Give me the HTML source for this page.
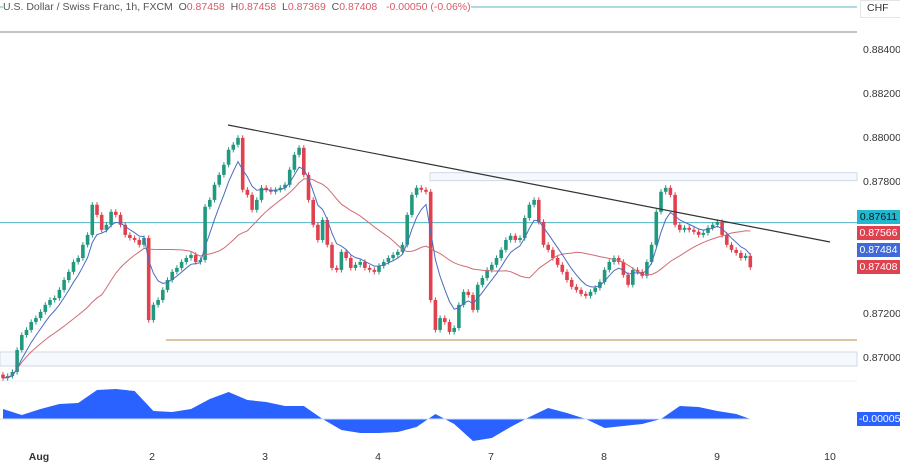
<!DOCTYPE html>
<html><head><meta charset="utf-8"><style>
body{margin:0;background:#fff;font-family:"Liberation Sans",sans-serif;}
svg{display:block}
</style></head><body>
<svg id="c" width="900" height="463" viewBox="0 0 900 463">
<rect width="900" height="463" fill="#fff"/>
<g id="bg"></g><g id="marks"></g><g id="over"></g>
</svg>
<script>
const closes=[0.86904,0.86914,0.86932,0.87032,0.87100,0.87123,0.87159,0.87177,0.87205,0.87237,0.87259,0.87268,0.87305,0.87350,0.87387,0.87432,0.87450,0.87510,0.87555,0.87692,0.87646,0.87578,0.87601,0.87660,0.87646,0.87601,0.87555,0.87541,0.87532,0.87510,0.87541,0.87168,
0.87237,0.87259,0.87305,0.87350,0.87387,0.87405,0.87432,0.87450,0.87464,0.87432,0.87441,0.87683,0.87714,0.87783,0.87828,0.87874,0.87942,0.87965,0.87996,0.87760,0.87737,0.87669,0.87714,0.87769,
0.87760,0.87751,0.87760,0.87769,0.87783,0.87851,0.87919,0.87951,0.87828,0.87714,0.87601,0.87532,0.87623,0.87510,0.87405,0.87396,0.87478,0.87450,0.87405,0.87419,0.87432,0.87405,0.87396,0.87387,
0.87414,0.87432,0.87450,0.87464,0.87478,0.87510,0.87646,0.87737,0.87769,0.87760,0.87751,0.87259,0.87123,0.87177,0.87159,0.87114,0.87132,0.87237,0.87296,0.87282,0.87214,0.87328,0.87359,0.87396,
0.87419,0.87450,0.87487,0.87532,0.87551,0.87532,0.87541,0.87632,0.87692,0.87714,0.87614,0.87510,0.87487,0.87450,0.87419,0.87387,0.87350,0.87319,0.87305,0.87287,0.87278,0.87296,0.87314,0.87341,
0.87396,0.87432,0.87450,0.87432,0.87373,0.87328,0.87396,0.87387,0.87369,0.87432,0.87510,0.87660,0.87751,0.87769,0.87737,0.87601,0.87578,0.87587,0.87578,0.87569,0.87555,0.87564,0.87587,0.87601,
0.87614,0.87555,0.87510,0.87487,0.87473,0.87450,0.87460,0.87408];
const firstOpen=0.86920;
const oscVals=[10,4,10,15,16,29,30,28,8,7,10,20,27,19,17,13,13,0,-11,-14,-14,-13,-8,5,-5,-22,-19,-8,2,11,6,0,-9,-7,-5,0,13,12,8,5,0];
const yTicks=[0.884,0.882,0.880,0.878,0.872,0.870];
const dayLabels=["Aug","2","3","4","7","8","9","10"];
const NS="http://www.w3.org/2000/svg";
const X0=3,STEP=4.7;
function xOf(i){return X0+i*STEP;}
function yOf(p){return 357-(p-0.870)/0.002*44;}
function oscY(v){return 419-v;}
function mk(tag,attrs,parent){const e=document.createElementNS(NS,tag);for(const k in attrs)e.setAttribute(k,attrs[k]);parent.appendChild(e);return e;}
const bg=document.getElementById('bg'),marks=document.getElementById('marks'),over=document.getElementById('over');
let e;
e=mk('line',{x1:0,x2:857,y1:7,y2:7,stroke:'#5fb9c9','stroke-width':1},bg);

e=mk('line',{x1:0,x2:857,y1:32,y2:32,stroke:'#8c8790','stroke-width':1},bg);

e=mk('rect',{x:430,y:yOf(0.87838),width:427,height:8,fill:'#f5f8fc',stroke:'#cfdae6','stroke-width':1},bg);

e=mk('rect',{x:0,y:352,width:857,height:14,fill:'#f5f8fc',stroke:'#cfdae6','stroke-width':1},bg);

e=mk('line',{x1:0,x2:857,y1:yOf(0.87611),y2:yOf(0.87611),stroke:'#4fb5c4','stroke-width':1},bg);

e=mk('line',{x1:166,x2:857,y1:340,y2:340,stroke:'#c9a26a','stroke-width':1.3},bg);

let prev=firstOpen;
closes.forEach((c,i)=>{const o=prev;prev=c;
 const hi=Math.max(o,c)+0.00012,lo=Math.min(o,c)-0.00012;
 const col=c>=o?'#22997f':'#e0414f';const x=xOf(i);
 const w=mk('line',{x1:x,x2:x,y1:yOf(hi),y2:yOf(lo),stroke:col,'stroke-width':1},marks);
 
 const y1=yOf(Math.max(o,c)),y2=yOf(Math.min(o,c));
 const b=mk('rect',{x:x-1.8,y:y1,width:3.6,height:Math.max(1.5,y2-y1),fill:col},marks);
 
});
function ema(n){const k=2/(n+1);let v=closes[0];return closes.map(c=>v=v+k*(c-v));}
function sma(n){return closes.map((c,i)=>{const s=closes.slice(Math.max(0,i-n+1),i+1);return s.reduce((a,b)=>a+b,0)/s.length;});}
const ma1=ema(6),ma2=sma(22);
e=mk('path',{d:ma2.map((v,i)=>(i?'L':'M')+xOf(i)+' '+yOf(v)).join(''),fill:'none',stroke:'#d26b74','stroke-width':1},marks);

e=mk('path',{d:ma1.map((v,i)=>(i?'L':'M')+xOf(i)+' '+yOf(v)).join(''),fill:'none',stroke:'#4a6cc0','stroke-width':1},marks);

e=mk('line',{x1:228,y1:125,x2:830,y2:242,stroke:'#333','stroke-width':1.2},marks);

e=mk('line',{x1:0,x2:857,y1:381,y2:381,stroke:'#eceff2','stroke-width':1},bg);

let d='M'+xOf(0)+' '+oscY(0);
oscVals.forEach((v,i)=>{d+='L'+xOf(Math.min(i*4,159))+' '+oscY(v);});
d+='L'+xOf(159)+' '+oscY(0)+'Z';
e=mk('path',{d:d,fill:'#2962ff','stroke-linejoin':'round'},marks);

e=mk('line',{x1:0,x2:xOf(159),y1:oscY(0),y2:oscY(0),stroke:'#cfe0f5','stroke-width':1},marks);

yTicks.forEach(t=>{const tx=mk('text',{x:863,y:yOf(t)+4,'font-size':10.5,fill:'#333'},over);tx.textContent=t.toFixed(5);
 });
const dayX=[39,152,265,378,491,604,717,830];
dayLabels.forEach((l,i)=>{const tx=mk('text',{x:dayX[i],y:460,'font-size':10.5,fill:'#333','text-anchor':'middle','font-weight':i==0?'bold':'normal'},over);tx.textContent=l;
 });
</script>
<div style="position:absolute;left:0;top:0;width:900px;height:463px;pointer-events:none;font-size:10.5px;">
 <div style="position:absolute;left:3px;top:1px;color:#555;white-space:nowrap;background:#fff;">U.S. Dollar / Swiss Franc, 1h, FXCM&nbsp; <span style="color:#555">O</span><span style="color:#d65b67">0.87458</span>&nbsp; <span style="color:#555">H</span><span style="color:#d65b67">0.87458</span>&nbsp; <span style="color:#555">L</span><span style="color:#d65b67">0.87369</span>&nbsp; <span style="color:#555">C</span><span style="color:#d65b67">0.87408</span>&nbsp;&nbsp; <span style="color:#d65b67">-0.00050 (-0.06%)</span></div>
 <div style="position:absolute;left:860px;top:0px;width:40px;height:16px;border:1px solid #e5e5e5;background:#fff;color:#333;padding-left:6px;line-height:15px;">CHF</div>
 <div style="position:absolute;left:857px;top:210px;width:43px;height:14px;background:#22b8cf;color:#111;text-align:center;line-height:14px;">0.87611</div>
 <div style="position:absolute;left:857px;top:226px;width:43px;height:14px;background:#e0414f;color:#fff;text-align:center;line-height:14px;">0.87566</div>
 <div style="position:absolute;left:857px;top:243px;width:43px;height:14px;background:#3f6ad8;color:#fff;text-align:center;line-height:14px;">0.87484</div>
 <div style="position:absolute;left:857px;top:260px;width:43px;height:14px;background:#e0414f;color:#fff;text-align:center;line-height:14px;">0.87408</div>
 <div style="position:absolute;left:857px;top:412px;width:43px;height:14px;background:#2962ff;color:#fff;line-height:14px;padding-left:2px;overflow:hidden;white-space:nowrap;">-0.00005</div>
</div>
</body></html>
